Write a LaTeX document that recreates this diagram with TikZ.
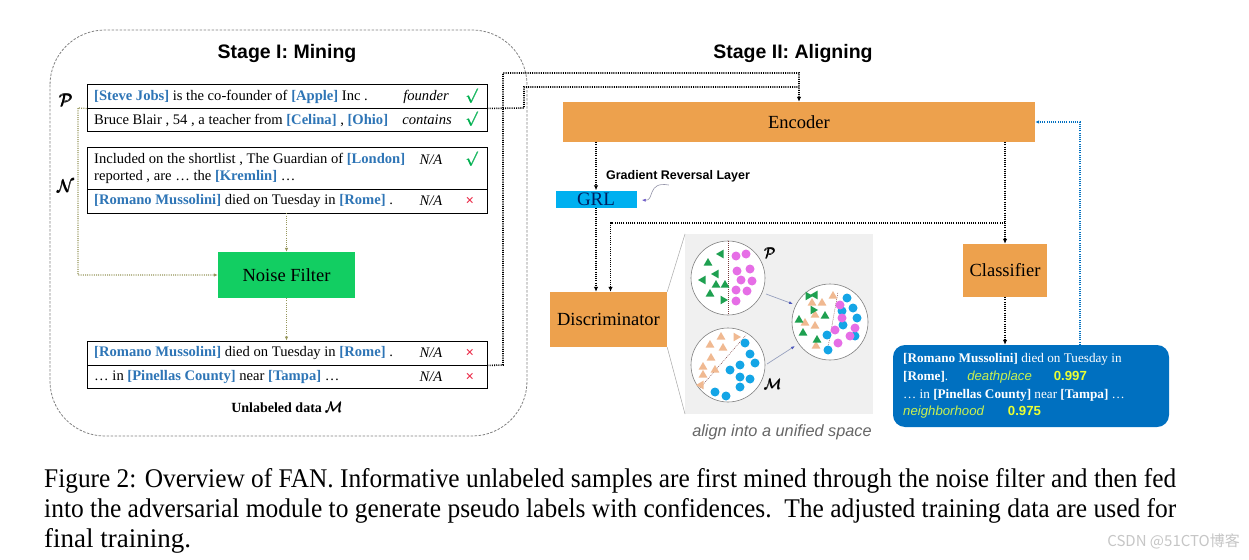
\documentclass[tikz,border=0pt]{standalone}
\usepackage{fontspec}
\setmainfont{Liberation Serif}
\setsansfont{Liberation Sans}
\newfontfamily\cjkfont{Noto Sans CJK SC}
\usepackage{amsmath}
\usepackage{graphicx}
\usetikzlibrary{arrows.meta,calc}
\definecolor{entblue}{RGB}{46,117,182}
\definecolor{chkgreen}{RGB}{0,176,80}
\definecolor{xred}{RGB}{235,40,70}
\definecolor{obox}{RGB}{237,161,77}
\definecolor{grlblue}{RGB}{0,176,240}
\definecolor{grltext}{RGB}{0,32,96}
\definecolor{nfgreen}{RGB}{18,206,98}
\definecolor{resblue}{RGB}{0,112,192}
\definecolor{olivec}{RGB}{150,150,90}
\definecolor{pgreen}{RGB}{30,160,80}
\definecolor{ppink}{RGB}{230,110,230}
\definecolor{morange}{RGB}{240,185,145}
\definecolor{mblue}{RGB}{20,165,230}
\definecolor{panelgray}{RGB}{240,240,240}
\definecolor{labyel}{RGB}{200,240,80}
\definecolor{numyel}{RGB}{235,255,50}
\definecolor{curvc}{RGB}{150,150,170}
\definecolor{curvtip}{RGB}{110,90,200}
\definecolor{divc}{RGB}{120,60,60}
\definecolor{parrc}{RGB}{150,160,190}
\definecolor{parrtip}{RGB}{80,90,190}
\newcommand\ent[1]{\textcolor{entblue}{\textbf{[#1]}}}
\newcommand\ck{\textcolor{chkgreen}{$\pmb{\surd}$}}
\newcommand\xx{\textcolor{xred}{\textbf{×}}}
\newcommand\bcal[1]{$\pmb{\mathcal{#1}}$}
\newcommand\mtri[4]{\fill[#1] (#2,#3) ++(#4:5pt) -- ++(#4+150:8.66pt) -- ++(#4+270:8.66pt) -- cycle;}
\begin{document}
\begin{tikzpicture}[x=1pt,y=-1pt,
  row/.style={draw, line width=0.9pt, minimum width=400pt, inner sep=0pt},
  txt/.style={font=\fontsize{14.6}{17}\selectfont, inner sep=0pt, anchor=west, align=left},
  rel/.style={font=\fontsize{14.6}{16}\selectfont\itshape, inner sep=0pt},
  mk/.style={font=\fontsize{15}{16}\selectfont, inner sep=0pt},
  obx/.style={fill=obox, inner sep=0pt, font=\fontsize{18.5}{20}\selectfont},
  dline/.style={line width=1.6pt, dash pattern=on 1pt off 1.2pt},
  darr/.style={dline, -{Latex[length=5pt,width=4.5pt]}},
  oarr/.style={olivec, line width=1.2pt, dash pattern=on 1pt off 1.2pt, -{Latex[length=4pt,width=3.5pt]}},
  barr/.style={resblue, line width=1.2pt, dash pattern=on 1pt off 1.2pt, -{Latex[length=4pt,width=3.5pt]}},
  circ/.style={gray, line width=0.6pt, fill=white},
  divl/.style={divc, line width=0.4pt, dash pattern=on 1pt off 1pt},
  parr/.style={parrc, line width=0.7pt, -{Latex[length=4pt,width=3pt,color=parrtip]}},
  title/.style={font=\sffamily\bfseries\fontsize{19.5}{22}\selectfont, inner sep=0pt}]
\useasboundingbox (0,0) rectangle (1249,559);
\fill[white] (0,0) rectangle (1249,559);

% Stage I frame
\draw[gray, dash pattern=on 2.5pt off 1.5pt, line width=0.8pt, rounded corners=55pt] (50,30) rectangle (527,436);
\node[title] (s1) at (287,54) {Stage I: Mining};
\node[title] (s2) at (793,54) {Stage II: Aligning};

% tables
\node[row, minimum height=24pt] (p1) at (287,96) {};
\node[row, minimum height=23pt] (p2) at (287,119.5) {};
\node[row, minimum height=42pt] (n1) at (287,168) {};
\node[row, minimum height=24pt] (n2) at (287,201) {};
\node[row, minimum height=24pt] (m1) at (287,353) {};
\node[row, minimum height=23pt] (m2) at (287,376.5) {};

\node[txt] (tp1) at (94,97) {\ent{Steve Jobs} is the co-founder of \ent{Apple} Inc .};
\node[rel] (rp1) at (426,97) {founder};
\node[mk] (cp1) at (472,96) {\ck};
\node[txt] (tp2) at (94,120) {Bruce Blair , 54 , a teacher from \ent{Celina} , \ent{Ohio}};
\node[rel] (rp2) at (427,120) {contains};
\node[mk] (cp2) at (472,119) {\ck};
\node[txt] (tn1) at (94,168.5) {Included on the shortlist , The Guardian of \ent{London}\\reported , are … the \ent{Kremlin} …};
\node[rel] (rn1) at (431,160) {N/A};
\node[mk] (cn1) at (472,159) {\ck};
\node[txt] (tn2) at (94,201) {\ent{Romano Mussolini} died on Tuesday in \ent{Rome} .};
\node[rel] (rn2) at (431,201) {N/A};
\node[mk] (cn2) at (470,201) {\xx};
\node[txt] (tm1) at (94,353) {\ent{Romano Mussolini} died on Tuesday in \ent{Rome} .};
\node[rel] (rm1) at (431,353) {N/A};
\node[mk] (cm1) at (470,353) {\xx};
\node[txt] (tm2) at (94,377) {… in \ent{Pinellas County} near \ent{Tampa} …};
\node[rel] (rm2) at (431,377) {N/A};
\node[mk] (cm2) at (470,377) {\xx};

\node[font=\fontsize{16}{16}\selectfont] (lp) at (66,100) {\bcal{P}};
\node[font=\fontsize{16}{16}\selectfont] (ln) at (66,186) {\bcal{N}};

\node[fill=nfgreen, minimum width=137pt, minimum height=46pt, inner sep=0pt, font=\fontsize{18.5}{20}\selectfont] (nf) at (286.5,275) {Noise Filter};
\node[font=\fontsize{14}{16}\selectfont\bfseries] (ul) at (287,407) {Unlabeled data \bcal{M}};

\draw[oarr] (n2.south -| nf.north) -- (nf.north);
\draw[oarr] (nf.south) -- (nf.south |- m1.north);
\coordinate (oc) at (78,108);
\draw[oarr] (p1.south west) -- (oc) |- (nf.west);

% Stage II
\node[obx, minimum width=472pt, minimum height=40pt] (enc) at (799,122) {Encoder};
\node[fill=grlblue, minimum width=81pt, minimum height=17pt, inner sep=0pt, font=\fontsize{19}{18}\selectfont, text=grltext] (grl) at (596,199) {GRL};
\node[font=\sffamily\bfseries\fontsize{12.5}{14}\selectfont, inner sep=0pt] (grlt) at (678,176) {Gradient Reversal Layer};
\draw[curvc, line width=0.6pt, -{Latex[length=4pt,width=3pt,color=curvtip]}] ($(grlt.south west)+(63,3)$) .. controls ($(grl.east)+(10,-18)$) and ($(grl.east)+(18,2)$) .. ($(grl.east)+(5,1)$);
\node[obx, minimum width=117pt, minimum height=55pt] (disc) at (608.5,319.5) {Discriminator};
\node[obx, minimum width=84pt, minimum height=53pt] (cls) at (1005,270.5) {Classifier};
\node[fill=resblue, rounded corners=12pt, minimum width=276pt, minimum height=82pt] (res) at (1031,386) {};
\node[anchor=north west, align=left, text=white, font=\fontsize{13.2}{17.7}\selectfont, inner sep=0pt] (rest) at (903,353.5) {\textbf{[Romano Mussolini]} died on Tuesday in\\
\textbf{[Rome]}.\hspace{19pt}{\sffamily\itshape\color{labyel}deathplace}\hspace{22pt}{\sffamily\bfseries\color{numyel}0.997}\\
… in \textbf{[Pinellas County]} near \textbf{[Tampa]} …\\
{\sffamily\itshape\color{labyel}neighborhood}\hspace{24pt}{\sffamily\bfseries\color{numyel}0.975}};

% connectors between stages
\coordinate (ja) at (524,108);
\coordinate (jb) at (503,365);
\draw[dline] (p1.south east) -- (ja) -- (524,87) -- (enc.north |- 0,87);
\draw[darr] (m1.south east) -- (jb) -- (503,73) -- (enc.north |- 0,73) -- (enc.north);
\draw[darr] (grl.north |- enc.south) -- (grl.north);
\draw[darr] (grl.south) -- (grl.south |- disc.north);
\coordinate (br) at (1005,223);
\draw[dline] (cls.north |- enc.south) -- (br);
\draw[darr] (br) -- (cls.north);
\draw[darr] (br) -| ($(disc.north)+(2,0)$);
\draw[darr] (cls.south) -- (cls.south |- res.north);
\draw[barr] ($(res.north)+(49,0)$) |- (enc.east);

% panel
\fill[panelgray] (685,234) rectangle (873,414);
\draw[gray!70, line width=0.5pt] (disc.north east) -- (685,234);
\draw[gray!70, line width=0.5pt] (disc.south east) -- (685,414);
\draw[parr] (766,294) -- (793,304);
\draw[parr] (767,364) -- (795,346);

\begin{scope}[shift={(728,278)}]
\draw[circ] (0,0) circle (37pt);
\draw[divl] (0,-37) -- (0,37);
\foreach \x/\y/\a in {-7/-24/180,-20/-15/90,-12/-4/180,-25/2/180,-12/7/90,-3/7/90,-18/16/90,-5/22/0}{\mtri{pgreen}{\x}{\y}{\a}}
\foreach \x/\y in {8/-22,18/-24,9/-7,22/-9,13/2,24/3,8/12,19/13,8/23}{\fill[ppink] (\x,\y) circle (4.5pt);}
\end{scope}
\begin{scope}[shift={(728,365)}]
\draw[circ] (0,0) circle (37pt);
\draw[divl] (-28,23) -- (18,-30);
\foreach \x/\y/\a in {-7/-28/90,8/-28/0,-18/-20/90,-5/-17/90,-17/-7/90,-25/2/90,-13/5/90,-25/10/90,-27/20/180}{\mtri{morange}{\x}{\y}{\a}}
\foreach \x/\y in {17/-22,22/-11,12/0,27/-2,2/5,12/12,22/14,-13/27,-2/31,12/22}{\fill[mblue] (\x,\y) circle (4.5pt);}
\end{scope}
\begin{scope}[shift={(830,322)}]
\draw[circ] (0,0) circle (38pt);
\draw[divl] (-3,31) -- (8,-30);
\foreach \x/\y/\a in {-18/-19/90,-8/-19/90,3/-26/90,-15/-7/90,-15/4/90,-25/1/90,-14/24/90}{\mtri{morange}{\x}{\y}{\a}}
\foreach \x/\y/\a in {-22/-26/0,-15/-27/180,-17/-12/0,-31/-2/90,-5/-6/90,-27/11/90,-13/18/90}{\mtri{pgreen}{\x}{\y}{\a}}
\foreach \x/\y in {17/-24,23/-14,12/-11,27/-4,13/3,25/14,-3/13,-2/28}{\fill[mblue] (\x,\y) circle (4.5pt);}
\foreach \x/\y in {10/-17,12/-4,25/6,5/8,20/14,8/21}{\fill[ppink] (\x,\y) circle (4.5pt);}
\end{scope}
\node[font=\fontsize{15}{16}\selectfont] (pl) at (770,253) {\bcal{P}};
\node[font=\fontsize{15}{16}\selectfont] (ml) at (773,384) {\bcal{M}};
\node[font=\sffamily\itshape\fontsize{16.3}{18}\selectfont, text=gray!80!black, inner sep=0pt] (al) at (782,432) {align into a unified space};

% caption
\node[anchor=west, inner sep=0pt, font=\fontsize{27}{30}\selectfont] (cap1) at (44,481) {\resizebox{1132pt}{\height}{Figure 2: Overview of FAN. Informative unlabeled samples are first mined through the noise filter and then fed}};
\node[anchor=west, inner sep=0pt, font=\fontsize{27}{30}\selectfont] (cap2) at (44,511) {\resizebox{1132pt}{\height}{into the adversarial module to generate pseudo labels with confidences.\ \ The adjusted training data are used for}};
\node[anchor=west, inner sep=0pt, font=\fontsize{27}{30}\selectfont] (cap3) at (44,541) {final training.};
\node[anchor=east, inner sep=0pt, text=gray!45, font=\cjkfont\fontsize{15}{16}\selectfont] (wm) at (1240,541) {CSDN @51CTO博客};
\end{tikzpicture}
\end{document}
